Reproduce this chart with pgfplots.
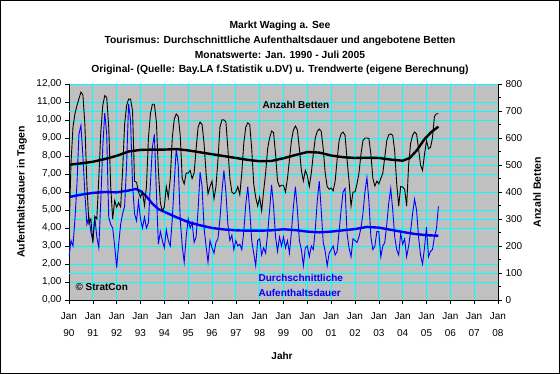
\documentclass[border=0pt]{standalone}
\usepackage{pgfplots}
\pgfplotsset{compat=1.18}
\usepackage{pgfplotstable}
\usepackage{fontspec}
\setmainfont{Liberation Sans}
\definecolor{excelgray}{HTML}{C0C0C0}
\definecolor{excelcyan}{HTML}{00FFFF}
\definecolor{excelblue}{HTML}{0000FF}

\pgfplotstableread{
y m D B
1990 1 2.4 237
1990 2 3.3 505
1990 3 3.0 640
1990 4 4.5 690
1990 5 6.4 720
1990 6 9.2 745
1990 7 9.7 770
1990 8 8.0 760
1990 9 5.9 650
1990 10 4.2 430
1990 11 4.6 285
1990 12 3.8 300
1991 1 3.3 213
1991 2 4.6 310
1991 3 3.5 300
1991 4 2.9 450
1991 5 5.5 620
1991 6 8.5 720
1991 7 10.4 757
1991 8 9.2 750
1991 9 4.6 640
1991 10 4.2 420
1991 11 4.0 300
1991 12 3.0 368
1992 1 1.8 344
1992 2 3.1 360
1992 3 4.2 345
1992 4 4.8 480
1992 5 5.2 650
1992 6 7.5 720
1992 7 10.9 744
1992 8 10.0 744
1992 9 6.4 700
1992 10 4.8 440
1992 11 4.4 436
1992 12 5.5 400
1993 1 4.5 380
1993 2 4.0 400
1993 3 4.6 350
1993 4 4.0 420
1993 5 4.3 600
1993 6 6.5 690
1993 7 8.5 725
1993 8 9.2 725
1993 9 6.0 660
1993 10 3.1 480
1993 11 3.8 360
1993 12 3.3 330
1994 1 2.9 345
1994 2 3.9 420
1994 3 3.3 380
1994 4 3.0 450
1994 5 4.5 600
1994 6 6.5 670
1994 7 8.4 689
1994 8 7.5 680
1994 9 4.5 610
1994 10 3.0 450
1994 11 2.1 430
1994 12 3.5 470
1995 1 4.5 470
1995 2 4.0 480
1995 3 4.3 450
1995 4 3.2 470
1995 5 3.5 560
1995 6 5.0 640
1995 7 7.1 659
1995 8 6.3 650
1995 9 4.0 580
1995 10 3.0 470
1995 11 2.1 393
1995 12 3.3 420
1996 1 2.9 440
1996 2 2.6 375
1996 3 3.2 420
1996 4 3.4 520
1996 5 4.5 640
1996 6 6.0 667
1996 7 7.2 667
1996 8 6.0 660
1996 9 4.2 560
1996 10 3.3 450
1996 11 3.6 400
1996 12 2.8 393
1997 1 3.3 400
1997 2 3.0 420
1997 3 3.1 390
1997 4 2.8 470
1997 5 3.8 580
1997 6 5.3 640
1997 7 6.3 656
1997 8 5.0 650
1997 9 3.3 560
1997 10 2.6 430
1997 11 1.9 380
1997 12 3.3 348
1998 1 3.4 380
1998 2 2.5 330
1998 3 2.9 404
1998 4 2.6 470
1998 5 3.7 560
1998 6 5.0 600
1998 7 6.4 626
1998 8 5.2 620
1998 9 3.5 540
1998 10 2.7 440
1998 11 3.5 420
1998 12 3.0 425
1999 1 3.5 425
1999 2 2.9 400
1999 3 3.3 450
1999 4 2.6 520
1999 5 3.8 590
1999 6 5.2 630
1999 7 6.3 644
1999 8 5.0 630
1999 9 3.3 560
1999 10 2.8 480
1999 11 1.9 441
1999 12 2.9 480
2000 1 3.0 460
2000 2 2.4 420
2000 3 3.0 470
2000 4 2.8 540
2000 5 3.9 600
2000 6 5.5 625
2000 7 6.6 633
2000 8 5.0 625
2000 9 3.2 560
2000 10 2.7 470
2000 11 1.9 420
2000 12 2.6 410
2001 1 2.8 415
2001 2 3.0 404
2001 3 2.5 440
2001 4 2.7 520
2001 5 3.8 590
2001 6 5.0 615
2001 7 6.0 622
2001 8 6.2 610
2001 9 3.7 520
2001 10 2.9 440
2001 11 2.4 348
2001 12 3.4 400
2002 1 3.3 400
2002 2 3.2 430
2002 3 3.5 470
2002 4 4.0 540
2002 5 4.8 590
2002 6 6.0 600
2002 7 6.8 600
2002 8 5.5 598
2002 9 3.5 540
2002 10 2.8 450
2002 11 3.0 422
2002 12 3.8 440
2003 1 3.8 430
2003 2 2.4 450
2003 3 3.0 470
2003 4 3.2 530
2003 5 4.2 590
2003 6 5.4 612
2003 7 6.2 615
2003 8 5.0 610
2003 9 3.5 550
2003 10 2.8 430
2003 11 2.5 348
2003 12 3.7 420
2004 1 3.1 419
2004 2 3.4 410
2004 3 2.4 348
2004 4 3.0 500
2004 5 3.8 580
2004 6 4.8 610
2004 7 5.6 622
2004 8 5.0 615
2004 9 3.5 560
2004 10 2.5 500
2004 11 2.0 480
2004 12 2.9 540
2005 1 4.05 590
2005 2 2.4 560
2005 3 2.7 565
2005 4 2.8 600
2005 5 3.5 680
2005 6 3.95 690
2005 7 5.2 690
}\monthly

\pgfplotstableread{
x T
1990.0 5.72
1990.5 5.85
1991.0 5.95
1991.5 6.00
1992.0 5.98
1992.5 6.08
1992.8 6.17
1993.0 6.05
1993.25 5.75
1993.5 5.35
1993.75 5.05
1994.0 4.90
1994.5 4.60
1995.0 4.33
1995.5 4.15
1996.0 4.00
1996.5 3.92
1997.0 3.87
1997.5 3.85
1998.0 3.85
1998.5 3.87
1999.0 3.93
1999.5 3.88
2000.0 3.80
2000.5 3.76
2001.0 3.80
2001.5 3.87
2002.0 3.94
2002.5 4.06
2003.0 4.02
2003.5 3.90
2004.0 3.78
2004.5 3.67
2005.0 3.60
2005.5 3.57
}\trendD

\pgfplotstableread{
x T
1990.0 501
1990.5 506
1991.0 512
1991.5 522
1992.0 534
1992.5 550
1993.0 556
1993.5 557
1994.0 557
1994.5 559
1995.0 554
1995.5 547
1996.0 540
1996.5 533
1997.0 526
1997.5 519
1998.0 514
1998.5 515
1999.0 525
1999.5 537
2000.0 548
2000.5 546
2001.0 535
2001.5 529
2002.0 526
2002.5 527
2003.0 526
2003.5 520
2004.0 516
2004.3 526
2004.6 555
2004.9 594
2005.2 622
2005.5 642
}\trendB

\begin{document}
\begin{tikzpicture}[x=1pt,y=1pt]
\useasboundingbox (0,0) rectangle (560,374);
\fill[white] (0,0) rectangle (560,374);
\draw[black, line width=1pt] (0.5,0.5) rectangle (559.5,373.5);

\node[align=center, font=\bfseries\fontsize{10.3}{14.9}\selectfont] at (280,326)
  {Markt Waging a. See\\
   Tourismus: Durchschnittliche Aufenthaltsdauer und angebotene Betten\\
   Monatswerte: Jan. 1990 - Juli 2005\\
   Original- (Quelle: Bay.LA f.Statistik u.DV) u. Trendwerte (eigene Berechnung)};

\begin{axis}[
  at={(69pt,74pt)}, anchor=south west,
  width=429pt, height=216pt, scale only axis,
  xmin=1990, xmax=2008, ymin=0, ymax=12,
  axis background/.style={fill=excelgray},
  axis x line*=bottom, axis y line*=left,
  axis line style={black, line width=0.8pt},
  xtick={1990,1991,...,2008},
  xticklabels={{Jan\\90},{Jan\\91},{Jan\\92},{Jan\\93},{Jan\\94},{Jan\\95},{Jan\\96},{Jan\\97},{Jan\\98},{Jan\\99},{Jan\\00},{Jan\\01},{Jan\\02},{Jan\\03},{Jan\\04},{Jan\\05},{Jan\\06},{Jan\\07},{Jan\\08}},
  xticklabel style={align=center, font=\fontsize{10}{17}\selectfont, yshift=-5pt},
  minor x tick num=11,
  ytick={0,1,...,12},
  extra y ticks={1.5,4.5,7.5,10.5},
  extra y tick labels={},
  extra y tick style={major tick length=0pt},
  yticklabel style={font=\fontsize{10}{12}\selectfont},
  /pgf/number format/.cd, fixed, fixed zerofill, precision=2, use comma, assume math mode=true,
  /pgfplots/.cd,
  grid=major,
  major grid style={excelcyan, line width=0.9pt},
  tick align=outside,
  major tick length=4pt, minor tick length=2pt,
  tick style={black, line width=0.6pt},
  xlabel={Jahr},
  xlabel style={font=\bfseries\fontsize{10}{12}\selectfont, at={(axis description cs:0.4965,-0.259)}, anchor=center},
  ylabel={Aufenthaltsdauer in Tagen},
  ylabel style={font=\bfseries\fontsize{10.5}{12}\selectfont, at={(axis description cs:-0.1096,0.5)}, anchor=center},
  clip=true,
]
\addplot[excelblue, line width=0.9pt] table[x expr={\thisrow{y}+(\thisrow{m}-1)/12}, y=D] {\monthly};
\addplot[excelblue, line width=2.4pt] table[x=x, y=T] {\trendD};
\end{axis}

\begin{axis}[
  at={(69pt,74pt)}, anchor=south west,
  width=429pt, height=216pt, scale only axis,
  xmin=1990, xmax=2008, ymin=0, ymax=800,
  axis x line=none, axis y line*=right,
  axis line style={black, line width=0.8pt},
  ytick={0,100,...,800},
  minor y tick num=1,
  tick align=outside,
  major tick length=4pt, minor tick length=3pt,
  tick style={black, line width=0.6pt},
  yticklabel style={font=\fontsize{10}{12}\selectfont},
  /pgf/number format/assume math mode=true,
  ylabel={Anzahl Betten},
  ylabel style={font=\bfseries\fontsize{10.5}{12}\selectfont, at={(axis description cs:1.091,0.5)}, anchor=center},
]
\addplot[black, line width=0.9pt] table[x expr={\thisrow{y}+(\thisrow{m}-1)/12}, y=B] {\monthly};
\addplot[black, line width=2.4pt] table[x=x, y=T] {\trendB};
\end{axis}

\node[font=\bfseries\fontsize{10}{12}\selectfont] at (296,269) {Anzahl Betten};
\node[anchor=west, align=left, font=\bfseries\fontsize{10}{15}\selectfont, text=excelblue] at (255,88.5) {Durchschnittliche\\Aufenthaltsdauer};
\node[anchor=west, font=\bfseries\fontsize{10}{12}\selectfont] at (72,87) {\textcopyright{} StratCon};
\end{tikzpicture}
\end{document}
